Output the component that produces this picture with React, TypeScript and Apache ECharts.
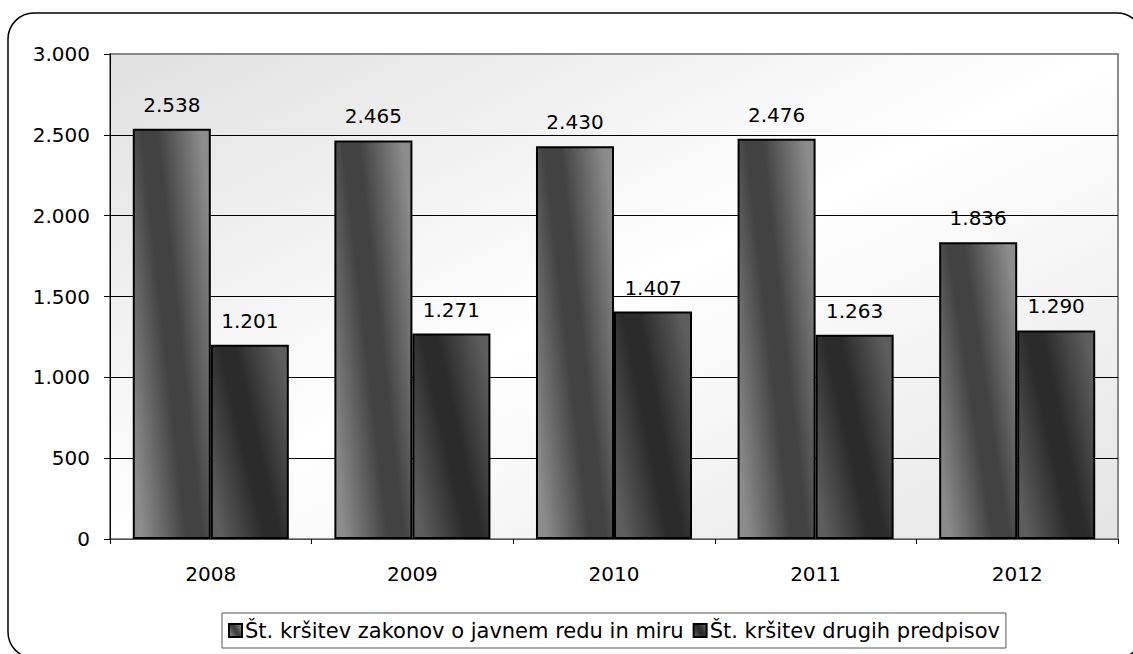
import React, { useEffect, useRef } from "react";
import * as echarts from "echarts";

const categories = ["2008", "2009", "2010", "2011", "2012"];
const seriesNames = ["Št. kršitev zakonov o javnem redu in miru", "Št. kršitev drugih predpisov"];
const javniRed = [2538, 2465, 2430, 2476, 1836];
const drugiPredpisi = [1201, 1271, 1407, 1263, 1290];
const yTicks = [0, 500, 1000, 1500, 2000, 2500, 3000];

const fmt = (v: number) => {
  const s = Math.round(v).toString();
  return s.replace(/\B(?=(\d{3})+(?!\d))/g, ".");
};

const grad = (light: string, dark: string) =>
  new echarts.graphic.LinearGradient(0, 0.8, 1, 0.2, [
    { offset: 0, color: light },
    { offset: 0.42, color: dark },
    { offset: 0.58, color: dark },
    { offset: 1, color: light },
  ]);

export default function App() {
  const ref = useRef<HTMLDivElement>(null);
  useEffect(() => {
    if (!ref.current) return;
    const chart = echarts.init(ref.current, null, { renderer: "svg" });
    const font = "'DejaVu Sans', sans-serif";
    const fs = 20;
    chart.setOption({
      animation: false,
      textStyle: { fontFamily: font, color: "#000" },
      graphic: [
        {
          type: "rect",
          shape: { x: 8, y: 13, width: 1135, height: 645, r: 26 },
          style: { fill: "none", stroke: "#000", lineWidth: 1.5 },
          z: -10,
          silent: true,
        },
      ],
      grid: {
        left: 110,
        right: 15,
        top: 54,
        bottom: 115,
        show: true,
        borderColor: "#8a8a8a",
        borderWidth: 2,
        backgroundColor: new echarts.graphic.LinearGradient(0, 0, 1, 1, [
          { offset: 0, color: "#e0e0e0" },
          { offset: 0.5, color: "#ffffff" },
          { offset: 1, color: "#e4e4e4" },
        ]),
      },
      legend: {
        left: 222,
        top: 613,
        itemWidth: 13,
        itemHeight: 13,
        itemGap: 9,
        icon: "rect",
        borderColor: "#555",
        borderWidth: 1,
        padding: [7, 6, 7, 6],
        textStyle: { fontFamily: font, fontSize: 21, color: "#000", padding: [0, 0, 0, -2] },
        data: seriesNames,
      },
      xAxis: {
        type: "category",
        data: categories,
        axisLine: { show: true, lineStyle: { color: "#555", width: 1 } },
        axisTick: { show: true, length: 5, alignWithLabel: false, lineStyle: { color: "#000" } },
        axisLabel: { fontSize: fs, color: "#000", margin: 25, fontFamily: font },
      },
      yAxis: {
        type: "value",
        min: yTicks[0],
        max: yTicks[yTicks.length - 1],
        interval: 500,
        axisLine: { show: true, lineStyle: { color: "#000", width: 1 } },
        axisTick: { show: true, length: 6, lineStyle: { color: "#000" } },
        axisLabel: { fontSize: fs, color: "#000", margin: 20, fontFamily: font, formatter: (v: number) => fmt(v) },
        splitLine: {
          show: true,
          lineStyle: { color: ["#000", "#000", "#000", "#000", "#000", "#000", "#8a8a8a"], width: 1 },
        },
      },
      series: [
        {
          name: seriesNames[0],
          type: "bar",
          data: javniRed,
          barGap: "0%",
          barCategoryGap: "22.6%",
          itemStyle: { color: grad("#8c8c8c", "#424242"), borderColor: "#000", borderWidth: 2 },
          label: {
            show: true,
            position: "top",
            distance: 14,
            fontSize: fs,
            color: "#000",
            fontFamily: font,
            formatter: (p: any) => fmt(p.value),
          },
        },
        {
          name: seriesNames[1],
          type: "bar",
          data: drugiPredpisi,
          itemStyle: { color: grad("#5e5e5e", "#2b2b2b"), borderColor: "#000", borderWidth: 2 },
          label: {
            show: true,
            position: "top",
            distance: 14,
            fontSize: fs,
            color: "#000",
            fontFamily: font,
            formatter: (p: any) => fmt(p.value),
          },
        },
      ],
    });
    return () => chart.dispose();
  }, []);
  return (
    <div
      ref={ref}
      style={{ position: "fixed", left: 0, top: 0, width: 1133, height: 654, background: "#fff" }}
    />
  );
}
